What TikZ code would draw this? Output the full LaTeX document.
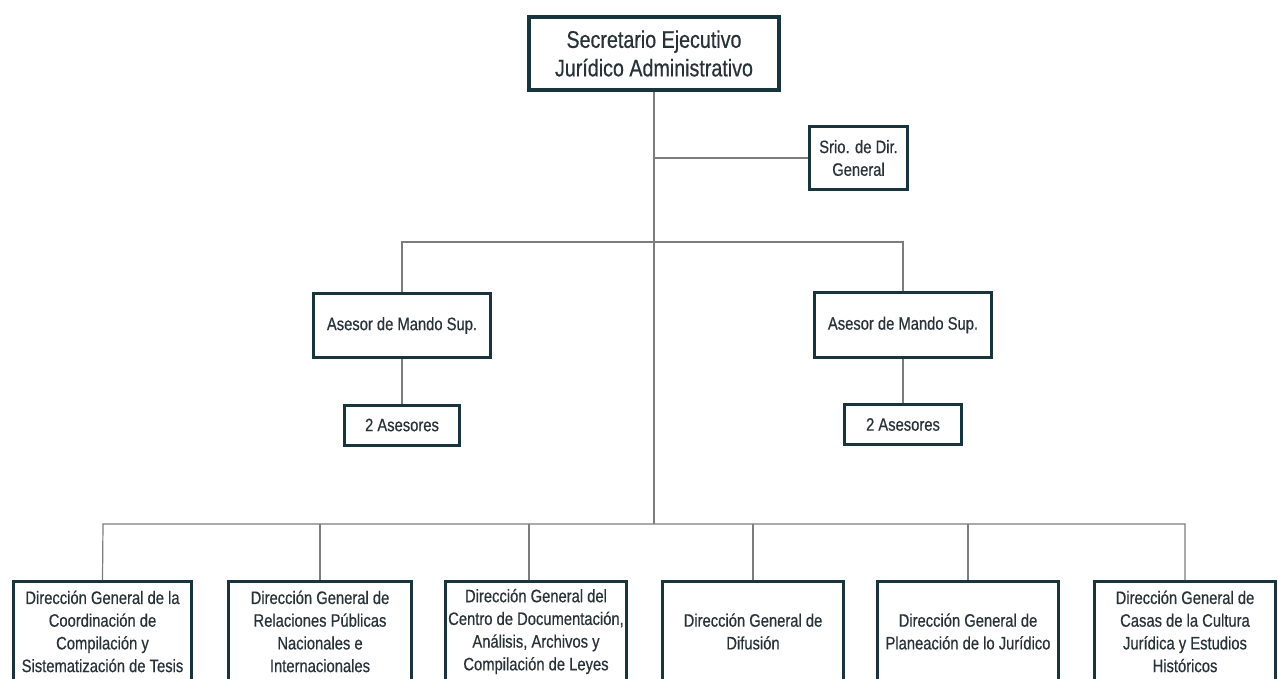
\documentclass[tikz,border=0pt]{standalone}
\usepackage{fontspec}
\setmainfont[FakeStretch=0.82,FakeBold=0.5]{Liberation Sans}
\definecolor{boxc}{RGB}{24,52,60}
\definecolor{txtc}{RGB}{40,50,55}
\definecolor{linec}{RGB}{125,125,125}
\tikzset{
  orgbox/.style={draw=boxc, line width=3pt, fill=white, text=txtc, align=center,
    inner sep=0pt, font=\fontsize{18}{22.7}\selectfont},
  topbox/.style={orgbox, line width=3.6pt, font=\fontsize{24}{28.5}\selectfont},
  conn/.style={draw=linec, line width=1.2pt}
}
\begin{document}
\begin{tikzpicture}[x=1pt,y=-1pt]
\useasboundingbox (0,0) rectangle (1278,679);
\clip (0,0) rectangle (1278,679);
\fill[white] (0,0) rectangle (1278,679);

% coordinates on the buses
\coordinate (mbusL) at (402,242);
\coordinate (mbusR) at (903,242);
\coordinate (bbusL) at (103,524);
\coordinate (bbusR) at (1185,524);
\coordinate (d3) at (529,524);

% nodes
\node[topbox, minimum width=250, minimum height=73] (top) at (654,53.5)
  {Secretario Ejecutivo\\Jurídico Administrativo};
\node[orgbox, minimum width=98, minimum height=63] (srio) at (858.5,158)
  {Srio. de Dir.\\General};
\node[orgbox, minimum width=177, minimum height=64] (as1) at (402,325.5)
  {Asesor de Mando Sup.};
\node[orgbox, minimum width=177, minimum height=64] (as2) at (903,325)
  {Asesor de Mando Sup.};
\node[orgbox, minimum width=115, minimum height=40] (as1b) at (402,425)
  {2 Asesores};
\node[orgbox, minimum width=117, minimum height=40] (as2b) at (903,424.5)
  {2 Asesores};

\node[orgbox, minimum width=178, minimum height=100] (b1) at (102.5,631.5)
  {Dirección General de la\\Coordinación de\\Compilación y\\Sistematización de Tesis};
\node[orgbox, minimum width=183, minimum height=100] (b2) at (320,631.5)
  {Dirección General de\\Relaciones Públicas\\Nacionales e\\Internacionales};
\node[orgbox, minimum width=181, minimum height=100] (b3) at (536,631.5)
  {Dirección General del\\Centro de Documentación,\\Análisis, Archivos y\\Compilación de Leyes};
\node[orgbox, minimum width=181, minimum height=100] (b4) at (753,631.5)
  {Dirección General de\\Difusión};
\node[orgbox, minimum width=181, minimum height=100] (b5) at (968,631.5)
  {Dirección General de\\Planeación de lo Jurídico};
\node[orgbox, minimum width=181, minimum height=100] (b6) at (1185,631.5)
  {Dirección General de\\Casas de la Cultura\\Jurídica y Estudios\\Históricos};

% connectors
\draw[conn] (top.south) -- (top.south |- bbusL);
\draw[conn] (top.south |- srio.west) -- (srio.west);
\draw[conn] (as1.north) -- (mbusL) -- (mbusR) -- (as2.north);
\draw[conn] (as1.south) -- (as1b.north);
\draw[conn] (as2.south) -- (as2b.north);
\draw[conn] (b1.north) -- (bbusL) -- (bbusR) -- (b6.north);
\draw[conn] (b2.north) -- (b2.north |- bbusL);
\draw[conn] (b3.north -| d3) -- (d3);
\draw[conn] (b4.north) -- (b4.north |- bbusL);
\draw[conn] (b5.north) -- (b5.north |- bbusL);
\end{tikzpicture}
\end{document}
